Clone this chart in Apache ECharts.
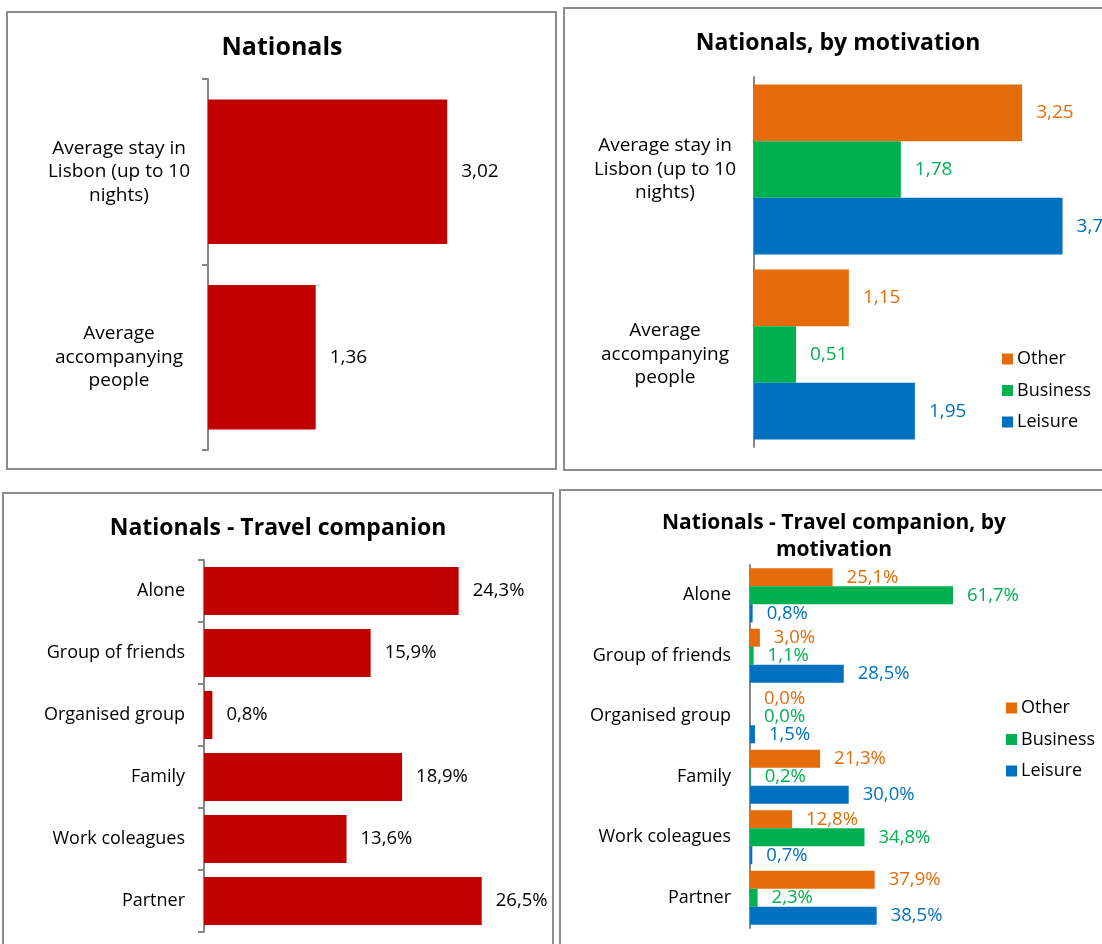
<!DOCTYPE html>
<html>
<head>
<meta charset="utf-8">
<script src="https://cdn.jsdelivr.net/npm/echarts@6/dist/echarts.min.js"></script>
<style>
  html, body { margin: 0; padding: 0; background: #ffffff; }
  #chart { width: 1102px; height: 944px; }
</style>
</head>
<body>
<div id="chart"></div>
<script>
// Nationals: average stay and accompanying people
const stayCategories = ['Average stay in\nLisbon (up to 10\nnights)', 'Average\naccompanying\npeople'];
const stayTotal = [3.02, 1.36];

// Same indicators split by trip motivation
const motivations = ['Other', 'Business', 'Leisure'];
const stayOther = [3.25, 1.15];
const stayBusiness = [1.78, 0.51];
const stayLeisure = [3.74, 1.95];

// Travel companion shares (%)
const companionCategories = ['Alone', 'Group of friends', 'Organised group', 'Family', 'Work coleagues', 'Partner'];
const companionTotal = [24.3, 15.9, 0.8, 18.9, 13.6, 26.5];
const companionOther = [25.1, 3.0, 0.0, 21.3, 12.8, 37.9];
const companionBusiness = [61.7, 1.1, 0.0, 0.2, 34.8, 2.3];
const companionLeisure = [0.8, 28.5, 1.5, 30.0, 0.7, 38.5];

const FONT = '"Open Sans", "Noto Sans", sans-serif';
const RED = '#C00000';
const motivationColors = ['#E46C0A', '#00B050', '#0070C0'];
const AXIS_GREY = '#868686';
const BORDER_GREY = '#8C8C8C';

const dec = (v, d) => v.toFixed(d).replace('.', ',');

const chart = echarts.init(document.getElementById('chart'), null, { renderer: 'canvas' });

function valueAxis(gridIndex, max) {
  return {
    type: 'value', gridIndex, min: 0, max,
    show: false, splitLine: { show: false }
  };
}

function categoryAxis(gridIndex, data, opts) {
  return Object.assign({
    type: 'category', gridIndex, data, inverse: true,
    axisLine: { show: true, lineStyle: { color: AXIS_GREY, width: 2 } },
    axisTick: { show: false },
    axisLabel: { color: '#000', fontFamily: FONT, fontSize: 18 }
  }, opts);
}

function barLabel(color, digits, suffix, size) {
  return {
    show: true, position: 'right', distance: 14,
    color, fontFamily: FONT, fontSize: size,
    formatter: p => dec(p.value, digits) + suffix
  };
}

function motivationLegend(left, top) {
  return {
    data: motivations, orient: 'vertical', left, top, padding: 0,
    icon: 'rect', itemWidth: 11, itemHeight: 11, itemGap: 11.5,
    textStyle: { color: '#000', fontFamily: FONT, fontSize: 18, lineHeight: 20, padding: [0, 0, 0, -1] },
    selectedMode: false
  };
}

const option = {
  animation: false,
  backgroundColor: '#ffffff',
  graphic: [
    // panel frames
    { type: 'rect', shape: { x: 7, y: 12, width: 549, height: 457 }, style: { fill: 'none', stroke: BORDER_GREY, lineWidth: 2 } },
    { type: 'rect', shape: { x: 564, y: 8, width: 560, height: 462 }, style: { fill: 'none', stroke: BORDER_GREY, lineWidth: 2 } },
    { type: 'rect', shape: { x: 3, y: 493, width: 550, height: 480 }, style: { fill: 'none', stroke: BORDER_GREY, lineWidth: 2 } },
    { type: 'rect', shape: { x: 560, y: 490, width: 560, height: 480 }, style: { fill: 'none', stroke: BORDER_GREY, lineWidth: 2 } },
    // panel titles
    { type: 'text', x: 282, y: 48, style: { text: 'Nationals', font: 'bold 25px ' + FONT, fill: '#000', textAlign: 'center', textVerticalAlign: 'middle' } },
    { type: 'text', x: 838, y: 43, style: { text: 'Nationals, by motivation', font: 'bold 23px ' + FONT, fill: '#000', textAlign: 'center', textVerticalAlign: 'middle' } },
    { type: 'text', x: 278, y: 528, style: { text: 'Nationals - Travel companion', font: 'bold 23px ' + FONT, fill: '#000', textAlign: 'center', textVerticalAlign: 'middle' } },
    { type: 'text', x: 834, y: 536.5, style: { text: 'Nationals - Travel companion, by\nmotivation', font: 'bold 21px ' + FONT, lineHeight: 27, fill: '#000', textAlign: 'center', textVerticalAlign: 'middle' } }
  ],
  legend: [
    motivationLegend(1002, 349),
    motivationLegend(1006, 698)
  ],
  grid: [
    { left: 208, top: 79, width: 79.2 * 4, height: 371 },
    { left: 754, top: 77, width: 82.5 * 4, height: 370 },
    { left: 204, top: 560, width: 10.48 * 30, height: 372 },
    { left: 750, top: 565, width: 3.29 * 70, height: 363 }
  ],
  xAxis: [
    valueAxis(0, 4),
    valueAxis(1, 4),
    valueAxis(2, 30),
    valueAxis(3, 70)
  ],
  yAxis: [
    categoryAxis(0, stayCategories, {
      axisTick: { show: true, length: 6, lineStyle: { color: AXIS_GREY, width: 2 } },
      axisLabel: { color: '#000', fontFamily: FONT, fontSize: 19, lineHeight: 23.5, align: 'center', margin: 89 }
    }),
    categoryAxis(1, stayCategories, {
      axisLabel: { color: '#000', fontFamily: FONT, fontSize: 19, lineHeight: 23.5, align: 'center', margin: 89 }
    }),
    categoryAxis(2, companionCategories, {
      axisTick: { show: true, length: 6, lineStyle: { color: AXIS_GREY, width: 2 } },
      axisLabel: { color: '#000', fontFamily: FONT, fontSize: 18, margin: 19 }
    }),
    categoryAxis(3, companionCategories, {
      axisLabel: { color: '#000', fontFamily: FONT, fontSize: 18, margin: 19 }
    })
  ],
  series: [
    {
      name: 'Nationals', type: 'bar', xAxisIndex: 0, yAxisIndex: 0,
      data: stayTotal, barCategoryGap: '22%',
      itemStyle: { color: RED }, label: barLabel('#000', 2, '', 19)
    },
    ...[stayOther, stayBusiness, stayLeisure].map((vals, i) => ({
      name: motivations[i], type: 'bar', xAxisIndex: 1, yAxisIndex: 1,
      data: vals, barGap: '0%', barCategoryGap: '8%',
      itemStyle: { color: motivationColors[i] },
      label: barLabel(motivationColors[i], 2, '', 19)
    })),
    {
      name: 'Travel companion', type: 'bar', xAxisIndex: 2, yAxisIndex: 2,
      data: companionTotal, barCategoryGap: '22.6%',
      itemStyle: { color: RED }, label: barLabel('#000', 1, '%', 18.5)
    },
    ...[companionOther, companionBusiness, companionLeisure].map((vals, i) => ({
      name: motivations[i], type: 'bar', xAxisIndex: 3, yAxisIndex: 3,
      data: vals, barGap: '0%', barCategoryGap: '10.7%',
      itemStyle: { color: motivationColors[i] },
      label: barLabel(motivationColors[i], 1, '%', 18.5)
    }))
  ]
};

chart.setOption(option);
</script>
</body>
</html>
